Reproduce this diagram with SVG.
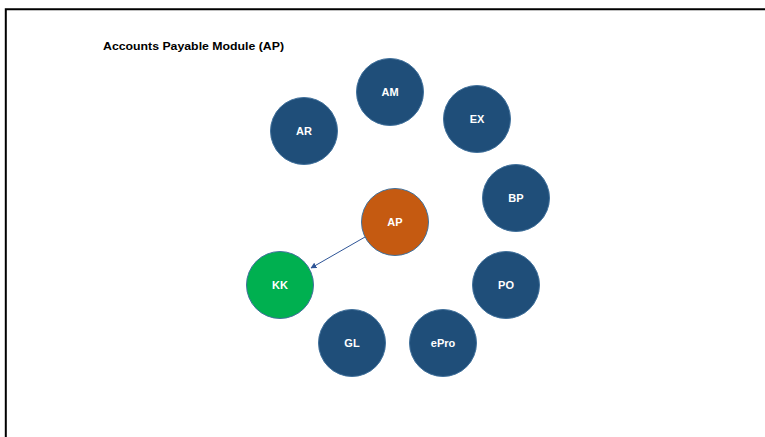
<svg xmlns="http://www.w3.org/2000/svg" width="765" height="437" viewBox="0 0 765 437">
<style>
.n{stroke:#41719C;stroke-width:1}
.b{fill:#1F4E79}
.t{font-family:"Liberation Sans",Arial,sans-serif;font-weight:bold;font-size:11px;fill:#FFFFFF;text-anchor:middle;dominant-baseline:central}
.title{font-family:"Liberation Sans",Arial,sans-serif;font-weight:bold;font-size:11px;fill:#000000}
.c{stroke:#2F5597;stroke-width:1;fill:none}
</style>
<defs>
<marker id="ah" viewBox="0 0 10 10" refX="9" refY="5" markerWidth="6" markerHeight="6" orient="auto" markerUnits="userSpaceOnUse">
<path d="M0,0 L10,5 L0,10 z" fill="#2F5597"/>
</marker>
</defs>
<rect width="765" height="437" fill="#FFFFFF"/>
<path d="M5.8,437 V9.3 H765" fill="none" stroke="#000000" stroke-width="2"/>
<text class="title" x="103" y="50" textLength="181" lengthAdjust="spacingAndGlyphs">Accounts Payable Module (AP)</text>
<g id="connectors">
<line class="c" x1="365" y1="237" x2="311" y2="268" marker-end="url(#ah)"/>
</g>
<g id="AR"><circle class="n b" cx="304" cy="131" r="33.5"/><text class="t" x="304" y="131">AR</text></g>
<g id="AM"><circle class="n b" cx="390" cy="92" r="33.5"/><text class="t" x="390" y="92">AM</text></g>
<g id="EX"><circle class="n b" cx="477" cy="119" r="33.5"/><text class="t" x="477" y="119">EX</text></g>
<g id="BP"><circle class="n b" cx="516" cy="198" r="33.5"/><text class="t" x="516" y="198">BP</text></g>
<g id="AP"><circle class="n" fill="#C55A11" cx="395" cy="222" r="33.5"/><text class="t" x="395" y="222">AP</text></g>
<g id="KK"><circle class="n" fill="#00B050" cx="280" cy="285" r="33.5"/><text class="t" x="280" y="285">KK</text></g>
<g id="PO"><circle class="n b" cx="506" cy="285" r="33.5"/><text class="t" x="506" y="285">PO</text></g>
<g id="GL"><circle class="n b" cx="352" cy="343" r="33.5"/><text class="t" x="352" y="343">GL</text></g>
<g id="ePro"><circle class="n b" cx="443" cy="343" r="33.5"/><text class="t" x="443" y="343">ePro</text></g>
</svg>
